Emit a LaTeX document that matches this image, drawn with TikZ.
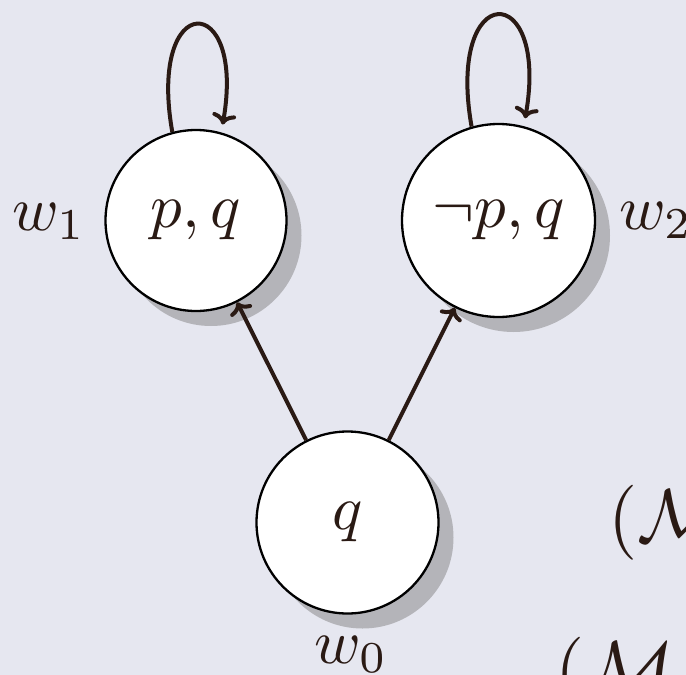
\documentclass[tikz,border=0pt]{standalone}
\usetikzlibrary{arrows.meta,shadows}
\definecolor{bg}{HTML}{E6E7F0}
\definecolor{ink}{HTML}{2A1A14}
\definecolor{shade}{HTML}{B4B4B9}
\newcommand{\bigtxt}[1]{\scalebox{6.3}{#1}}
\newcommand{\hugetxt}[1]{\scalebox{7.5}{#1}}
\begin{document}
\begin{tikzpicture}[x=1pt,y=1pt,
  world/.style={circle, draw=black, line width=2.3pt, fill=white, inner sep=0pt,
    text=ink,
    drop shadow={shadow xshift=15pt, shadow yshift=-15pt, fill=shade, opacity=1}},
  lab/.style={text=ink, inner sep=0pt, anchor=base west},
  arr/.style={draw=ink, line width=4pt, -{To[length=11pt,width=24pt]}}]
\fill[bg] (0,0) rectangle (686,-675);
\useasboundingbox (0,0) rectangle (686,-675);
\clip (0,0) rectangle (686,-675);
\node[world, minimum size=181pt] (w1) at (196,-220.5) {\bigtxt{$p,q$}};
\node[world, minimum size=193pt] (w2) at (498.5,-220.5) {\bigtxt{$\neg p,q$}};
\node[world, minimum size=182pt] (w0) at (347.5,-522.5) {\bigtxt{$q$}};
\draw[arr, shorten >=8pt] (w1.105) .. controls +(100:145) and +(80:145) .. (w1.74);
\draw[arr, shorten >=8pt] (w2.106) .. controls +(100:150) and +(80:150) .. (w2.75);
\draw[arr] (w0) -- (w1);
\draw[arr] (w0) -- (w2);
\node[lab] (l1) at (12,-230) {\bigtxt{$w_1$}};
\node[lab] (l2) at (619,-229) {\bigtxt{$w_2$}};
\node[lab] (l0) at (314,-663) {\bigtxt{$w_0$}};
\node[lab] (m1) at (608,-541) {\hugetxt{$(\mathcal{M}$}};
\node[lab] (m2) at (555,-693) {\hugetxt{$(\mathcal{M}$}};
\end{tikzpicture}
\end{document}
